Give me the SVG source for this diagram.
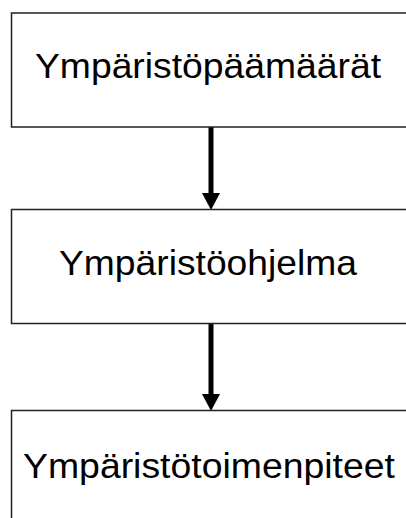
<svg xmlns="http://www.w3.org/2000/svg" width="406" height="518" viewBox="0 0 406 518">
<defs>
<style>
.box{fill:#fff;stroke:#222;stroke-width:1.5}
.lbl{font-family:"Liberation Sans",Arial,sans-serif;font-size:35px;fill:#000}
.con{stroke:#000;stroke-width:5;fill:none}
</style>
<marker id="ah" markerUnits="userSpaceOnUse" markerWidth="18" markerHeight="17" refX="9" refY="0" orient="auto" viewBox="0 0 18 17">
<path d="M0,0 L18,0 L9,17 Z" fill="#000" transform="rotate(-90 9 8.5) translate(0 0)"/>
</marker>
</defs>
<rect width="406" height="518" fill="#fff"/>
<g id="connectors">
<path class="con" d="M211,127 V193"/>
<path class="head" d="M202,193 L220,193 L211,210 Z" fill="#000"/>
<path class="con" d="M211,324 V394"/>
<path class="head" d="M202,394 L220,394 L211,411 Z" fill="#000"/>
</g>
<g id="n1">
<rect class="box" x="11.5" y="13" width="410" height="114"/>
<text class="lbl" x="35" y="77.5" textLength="346" lengthAdjust="spacingAndGlyphs">Ympäristöpäämäärät</text>
</g>
<g id="n2">
<rect class="box" x="11.5" y="209.5" width="410" height="114"/>
<text class="lbl" x="59" y="275" textLength="298" lengthAdjust="spacingAndGlyphs">Ympäristöohjelma</text>
</g>
<g id="n3">
<rect class="box" x="11.5" y="410.5" width="410" height="130"/>
<text class="lbl" x="23" y="477.5" textLength="372" lengthAdjust="spacingAndGlyphs">Ympäristötoimenpiteet</text>
</g>
</svg>
